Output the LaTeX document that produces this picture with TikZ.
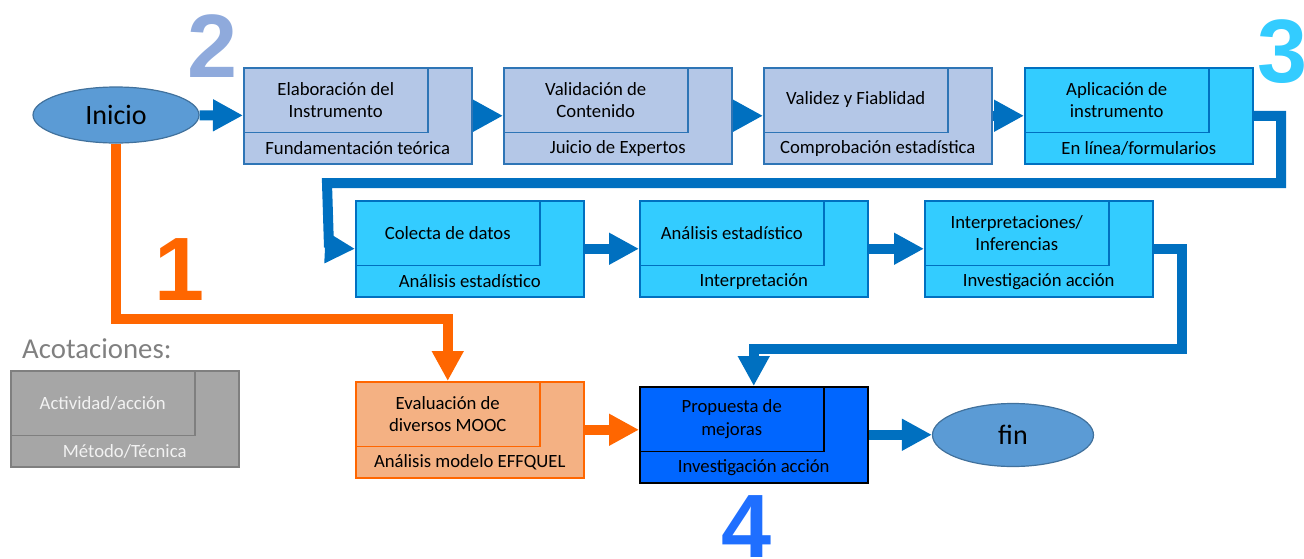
\documentclass[tikz,border=0pt]{standalone}
\usepackage{fontspec}
\setmainfont{Carlito}
\newfontfamily\digitfont{Liberation Sans}
\usetikzlibrary{arrows.meta,shapes.geometric,calc}

% palette
\definecolor{lightsteel}{HTML}{B4C7E7}
\definecolor{steelline}{HTML}{2E75B6}
\definecolor{cyanfill}{HTML}{33CCFF}
\definecolor{cyanline}{HTML}{0070C0}
\definecolor{flowblue}{HTML}{0070C0}
\definecolor{floworange}{HTML}{FF6600}
\definecolor{peach}{HTML}{F4B183}
\definecolor{brightblue}{HTML}{0066FF}
\definecolor{legendgray}{HTML}{A6A6A6}
\definecolor{legendline}{HTML}{7F7F7F}
\definecolor{legendtext}{HTML}{F2F2F2}
\definecolor{captiongray}{HTML}{808080}
\definecolor{termfill}{HTML}{5B9BD5}
\definecolor{termline}{HTML}{41719C}
\definecolor{numtwo}{HTML}{8FAADC}
\definecolor{numthree}{HTML}{33CCFF}
\definecolor{numfour}{HTML}{1F6FFF}

\newcommand{\bodyfont}{\fontsize{18.7}{22.8}\selectfont}

\tikzset{
  outerbox/.style={line width=1.5pt, minimum width=228pt, minimum height=96pt,
    inner sep=0pt, anchor=north west},
  innerbox/.style={line width=1.5pt, minimum width=184pt, minimum height=64.5pt,
    inner sep=0pt, anchor=north west, align=center, font=\bodyfont},
  methodtext/.style={inner sep=0pt, font=\bodyfont},
  phaseA/.style={fill=lightsteel, draw=steelline},
  phaseB/.style={fill=cyanfill, draw=cyanline},
  phaseC/.style={fill=peach, draw=floworange},
  phaseD/.style={fill=brightblue, draw=black},
  legendstyle/.style={fill=legendgray, draw=legendline},
  terminal/.style={ellipse, fill=termfill, draw=termline, line width=1.2pt,
    inner sep=0pt, font=\fontsize{28}{30}\selectfont},
  flowarrow/.style={draw=flowblue, line width=10pt,
    -{Triangle[length=30pt,width=30pt]}},
  orangearrow/.style={draw=floworange, line width=10pt,
    -{Triangle[length=30pt,width=30pt]}},
  phasenum/.style={inner sep=0pt, anchor=base,
    font=\digitfont\bfseries\fontsize{90}{90}\selectfont},
}

% #1 name, #2 top-left corner, #3 colour style, #4 text colour,
% #5 activity, #6 method
\newcommand{\procbox}[6]{%
  \node[outerbox,#3] (#1) at #2 {};
  \node[innerbox,#3,text=#4] (#1i) at (#1.north west) {#5};
  \node[methodtext,text=#4] (#1m) at ($(#1.south)+(0,-16)$) {#6};
}

\begin{document}
\begin{tikzpicture}[x=1pt,y=-1pt]
\useasboundingbox (0,0) rectangle (1304,558);

% terminals
\node[terminal, minimum width=166pt, minimum height=56pt] (ini) at (116,115) {Inicio};
\node[terminal, minimum width=161pt, minimum height=63pt] (fin) at (1013,435) {fin};

% phase 2: instrument design
\procbox{b1}{(243,67)}{phaseA}{black}{Elaboración del\\Instrumento}{Fundamentación teórica}
\procbox{b2}{(503,67)}{phaseA}{black}{Validación de\\Contenido}{Juicio de Expertos}
\procbox{b3}{(763,67)}{phaseA}{black}{Validez y Fiablidad}{Comprobación estadística}

% phase 3: application and analysis
\procbox{b4}{(1024,67)}{phaseB}{black}{Aplicación de\\instrumento}{En línea/formularios}
\procbox{b5}{(355,200)}{phaseB}{black}{Colecta de datos}{Análisis estadístico}
\procbox{b6}{(639,200)}{phaseB}{black}{Análisis estadístico}{Interpretación}
\procbox{b7}{(924,200)}{phaseB}{black}{Interpretaciones/\\Inferencias}{Investigación acción}

% phase 1 and phase 4
\procbox{ev}{(355,381)}{phaseC}{black}{Evaluación de\\diversos MOOC}{Análisis modelo EFFQUEL}
\procbox{pr}{(639,386)}{phaseD}{black}{Propuesta de\\mejoras}{Investigación acción}

% legend
\node[anchor=base west, inner sep=0pt, text=captiongray,
  font=\fontsize{28.8}{30}\selectfont] (cap) at (22,358) {Acotaciones:};
\procbox{lg}{(10,370)}{legendstyle}{legendtext}{Actividad/acción}{Método/Técnica}

% phase numbers
\node[phasenum, text=floworange] (n1) at (180,300) {1};
\node[phasenum, text=numtwo] (n2) at (213,77) {2};
\node[phasenum, text=numthree] (n3) at (1283,82) {3};
\node[phasenum, text=numfour] (n4) at (747,557) {4};

% routing points
\coordinate (k1) at (1281,183);
\coordinate (k2) at (327,183);
\coordinate (k3) at (329,247.5);
\coordinate (m1) at (1182,349);
\coordinate (o1) at (200,319);

% connectors
\draw[flowarrow] (ini) -- (b1);
\draw[flowarrow] (b1) -- (b2);
\draw[flowarrow] (b2) -- (b3);
\draw[flowarrow] (b3) -- (b4);
\draw[flowarrow] (b4.east) -| (k1) -- (k2) -- (k3) -- (b5.west);
\draw[flowarrow] (b5) -- (b6);
\draw[flowarrow] (b6) -- (b7);
\draw[flowarrow] (b7.east) -| (m1) -| (pr.north);
\draw[orangearrow] (ini.south) |- (o1) -| (evi.north);
\draw[orangearrow] (ev.east) -- (ev.east -| pr.west);
\draw[flowarrow] (pr.east) -- (pr.east -| fin.west);
\end{tikzpicture}
\end{document}
